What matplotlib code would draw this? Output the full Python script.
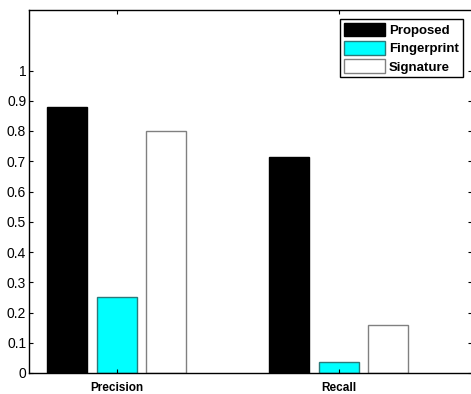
import matplotlib
matplotlib.use("Agg")
import matplotlib.pyplot as plt
import numpy as np

categories = ["Precision", "Recall"]
series_names = ["Proposed", "Fingerprint", "Signature"]
proposed = [0.88, 0.715]
fingerprint = [0.25, 0.035]
signature = [0.80, 0.16]
yticks = [0, 0.1, 0.2, 0.3, 0.4, 0.5, 0.6, 0.7, 0.8, 0.9, 1]
ytick_labels = ["0", "0.1", "0.2", "0.3", "0.4", "0.5", "0.6", "0.7", "0.8", "0.9", "1"]

plt.rcParams['font.family'] = ['Liberation Sans', 'DejaVu Sans']

fig = plt.figure(figsize=(4.71, 3.94), dpi=100)
ax = fig.add_axes([29/471, 1 - 373/394, (472 - 29)/471, (373 - 10)/394])

x = np.arange(1, len(categories) + 1)
w = 0.18
off = 0.222
styles = [
    dict(color="black", edgecolor="black"),
    dict(color="#00ffff", edgecolor="#2a7a7a"),
    dict(color="white", edgecolor="#808080"),
]
for i, (vals, name) in enumerate(zip([proposed, fingerprint, signature], series_names)):
    ax.bar(x + (i - 1) * off, vals, width=w, label=name, linewidth=1.0, **styles[i])

ax.set_xlim(0.605, 2.6)
ax.set_ylim(0, 1.2)
ax.set_yticks(yticks)
ax.set_yticklabels(ytick_labels, fontsize=10)
ax.set_xticks(x)
ax.set_xticklabels(categories, fontsize=8.5, fontweight="bold")
ax.tick_params(direction="in", length=3, width=0.8, top=True, right=True, pad=2)
ax.tick_params(axis="x", pad=6.5)
for s in ax.spines.values():
    s.set_linewidth(1.0)

leg = ax.legend(loc="upper right", bbox_to_anchor=(463/471, (394 - 19)/394), bbox_transform=fig.transFigure,
                fancybox=False, framealpha=1, edgecolor="black",
                prop={"weight": "bold", "size": 9.5}, handlelength=3.1, handleheight=1.2,
                borderpad=0.3, labelspacing=0.3, handletextpad=0.35, borderaxespad=0)
leg.get_frame().set_linewidth(1.0)

fig.savefig("out.png", dpi=100)
